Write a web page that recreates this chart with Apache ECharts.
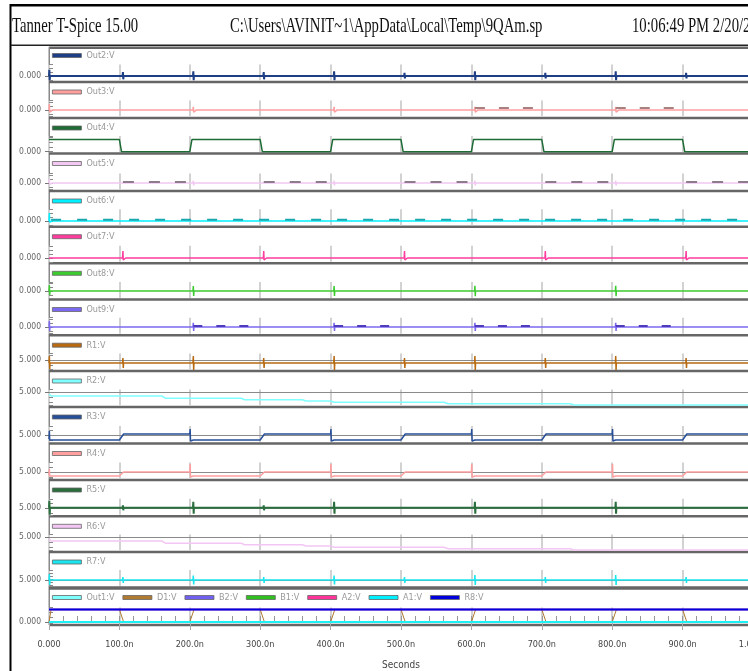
<!DOCTYPE html>
<html>
<head>
<meta charset="utf-8">
<title>Tanner T-Spice 15.00</title>
<script src="https://cdn.jsdelivr.net/npm/echarts@6/dist/echarts.min.js"></script>
<style>
html,body{margin:0;padding:0;background:#fff}
#main{width:748px;height:671px}
</style>
</head>
<body>
<div id="main"></div>
<script>
var NARROW = "'Liberation Sans Narrow','Arial Narrow','DejaVu Sans Condensed',sans-serif";

// x axis (ns)
var tickLabels = ['0.000', '100.0n', '200.0n', '300.0n', '400.0n', '500.0n', '600.0n', '700.0n', '800.0n', '900.0n', '1.000u'];

// glitches on flat traces: [time ns, up V, down V]
var out2Glitch = [[0.5,1.6,1.0],[105,1.0,0.8],[205,1.2,1.0],[305,1.0,0.8],[405,1.2,1.0],[505,0.8,0.6],[605,1.2,1.0],[705,0.8,0.6],[805,1.2,1.0],[905,0.8,0.6]];
var out3Glitch = [[0.5,1.5,0.5],[105,0.3,0.1],[205,0.8,0.5],[305,0.3,0.1],[405,0.8,0.5],[505,0.3,0.1],[605,0.8,0.5],[705,0.3,0.1],[805,0.8,0.5],[905,0.3,0.1]];
var out3Dash = [[605,700],[805,900]];
var out4 = [[0,5],[100,5],[103,0],[200,0],[203,5],[300,5],[303,0],[400,0],[403,5],[500,5],[503,0],[600,0],[603,5],[700,5],[703,0],[800,0],[803,5],[900,5],[903,0],[1000,0]];
var out5Glitch = [[0.5,1.0,0.3],[105,0.4,0.2],[205,0.6,0.6],[305,0.4,0.2],[405,0.6,0.6],[505,0.4,0.2],[605,0.6,0.6],[705,0.4,0.2],[805,0.6,0.6],[905,0.4,0.2]];
var out5Dash = [[105,200],[305,400],[505,600],[705,800],[905,1000]];
var out6Glitch = [[0.5,2.0,0.3],[105,0.5,0.3],[205,0.5,0.3],[305,0.5,0.3],[405,0.5,0.3],[505,0.5,0.3],[605,0.5,0.3],[705,0.5,0.3],[805,0.5,0.3],[905,0.5,0.3]];
var out6Dash = [[3,1000]];
var out7Glitch = [[0.5,0.5,0.2],[105,1.75,0.5],[205,0.3,0.3],[305,1.75,0.5],[405,0.3,0.3],[505,1.75,0.5],[605,0.3,0.3],[705,1.75,0.5],[805,0.3,0.3],[905,1.75,0.5]];
var out8Glitch = [[0.5,1.5,1.0],[105,0.25,0],[205,1.25,1.25],[305,0.25,0],[405,1.25,1.25],[505,0.25,0],[605,1.3,1.3],[705,0.25,0],[805,1.3,1.3],[905,0.25,0]];
var out9Glitch = [[0.5,1.5,1.0],[105,0.3,0.1],[205,1.0,1.0],[305,0.3,0.1],[405,1.0,1.0],[505,0.3,0.1],[605,1.0,1.0],[705,0.3,0.1],[805,1.0,1.0],[905,0.3,0.1]];
var out9Dash = [[205,300],[405,500],[605,700],[805,900]];
var r1Glitch = [[0.5,0.7,0.6],[105,0.5,0.5],[205,0.7,0.7],[305,0.5,0.5],[405,0.7,0.7],[505,0.5,0.5],[605,0.7,0.7],[705,0.5,0.5],[805,0.7,0.7],[905,0.5,0.5]];
var r2 = [[0,4.8],[3,4.6],[160,4.6],[166,4.37],[273,4.37],[278,4.23],[360,4.23],[365,4.1],[400,4.1],[405,3.97],[561,3.97],[567,3.83],[740,3.83],[746,3.7],[1000,3.7]];
var r3 = [[0,4.6],[0.5,5.4],[1,4.5],[100,4.5],[106,5.1],[200,5.1],[200.5,5.6],[201,4.4],[205,4.5],[300,4.5],[306,5.1],[400,5.1],[400.5,5.6],[401,4.4],[405,4.5],[500,4.5],[506,5.1],[600,5.1],[600.5,5.6],[601,4.4],[605,4.5],[700,4.5],[706,5.1],[800,5.1],[800.5,5.6],[801,4.4],[805,4.5],[900,4.5],[906,5.1],[1000,5.1]];
var r4 = [[0,4.7],[0.5,5.3],[1,4.6],[100,4.6],[106,5.0],[200,5.0],[200.5,5.8],[201,4.5],[205,4.6],[300,4.6],[306,5.0],[400,5.0],[400.5,5.8],[401,4.5],[405,4.6],[500,4.6],[506,5.0],[600,5.0],[600.5,5.8],[601,4.5],[605,4.6],[700,4.6],[706,5.0],[800,5.0],[800.5,5.8],[801,4.5],[805,4.6],[900,4.6],[906,5.0],[1000,5.0]];
var r5Glitch = [[0.5,0.7,0.7],[105,0.25,0.25],[205,0.6,0.6],[305,0.25,0.25],[405,0.6,0.6],[505,0.2,0.2],[605,0.6,0.6],[705,0.2,0.2],[805,0.6,0.6],[905,0.2,0.2]];
var r6 = [[0,4.8],[3,4.6],[160,4.6],[166,4.37],[273,4.37],[278,4.23],[360,4.23],[365,4.1],[400,4.1],[405,3.97],[561,3.97],[567,3.83],[740,3.83],[746,3.7],[1000,3.7]];
var r7Glitch = [[0.5,0.6,0.5],[105,0.3,0.3],[205,0.45,0.45],[305,0.3,0.3],[405,0.45,0.45],[505,0.3,0.3],[605,0.5,0.5],[705,0.3,0.3],[805,0.5,0.5],[905,0.3,0.3]];
var d1 = [[0,0],[3,5],[100,5],[106,0],[200,0],[206,5],[300,5],[306,0],[400,0],[406,5],[500,5],[506,0],[600,0],[606,5],[700,5],[706,0],[800,0],[806,5],[900,5],[906,0],[1000,0]];
var b2 = [[0,5],[1000,5]];
var b1 = [[0,0],[1000,0]];
var a2 = [[0,5],[1000,5]];
var a1 = [[0,0],[1000,0]];
var out1 = [[0,0],[1000,0]];
var r8 = [[0,5],[1000,5]];

// panels: legend names, y range, labelled level
var panelNames = [['Out2:V'],['Out3:V'],['Out4:V'],['Out5:V'],['Out6:V'],['Out7:V'],['Out8:V'],['Out9:V'],
  ['R1:V'],['R2:V'],['R3:V'],['R4:V'],['R5:V'],['R6:V'],['R7:V'],
  ['Out1:V','D1:V','B2:V','B1:V','A2:V','A1:V','R8:V']];
var yMin = [-1.1,-1.6,-0.15,-1.6,-1.05,-0.95,-1.75,-1.7, 4.05,3.65,4.3,4.35,4.3,3.65,4.4, -0.6];
var yMax = [2.9,2.4,6.5,2.4,2.95,3.05,2.25,2.3, 5.65,5.25,5.9,5.95,5.9,5.25,6.0, 5.8];
var yLabel = [0,0,0,0,0,0,0,0, 5,5,5,5,5,5,5, 0];

// layout: separator lines between panels
var sepY = [82, 118, 153.5, 191, 226.7, 263.3, 299.5, 335.2, 371, 407, 443.5, 480, 516.3, 552, 587.5, 625];
var panelTop = [47].concat(sepY.slice(0, 15).map(function (y) { return y + 1.5; }));
var PLOT_H = 16;

// flat trace with short spikes; extra return points so that zrender's
// tiny-segment skipping never leaves the trace hanging below its level
function flat(level, glitch) {
  var pts = [[0, level]];
  glitch.forEach(function (g) {
    pts.push([g[0] - 0.5, level], [g[0], level + g[1]], [g[0] + 0.5, level - g[2]],
      [g[0] + 0.9, level], [g[0] + 4, level]);
  });
  pts.push([1000, level]);
  return pts;
}

function line(name, idx, data, color, width) {
  return {
    name: name, type: 'line', xAxisIndex: idx, yAxisIndex: idx,
    data: data, symbol: 'none', showSymbol: false,
    lineStyle: { color: color, width: width || 1.5 },
    itemStyle: { color: color }
  };
}

function dashes(name, idx, spans, level, color, pattern) {
  var pts = [];
  spans.forEach(function (s) {
    pts.push([s[0], level], [s[1], level], [s[1] + 0.5, '-']);
  });
  var s = line(name, idx, pts, color, 2);
  s.lineStyle.type = pattern;
  return s;
}

function withRef(s, v) {
  s.markLine = {
    silent: true, symbol: ['none', 'none'], z: 1,
    label: { show: false },
    lineStyle: { color: '#8a8a8a', width: 1, type: 'solid' },
    data: [{ yAxis: v }]
  };
  return s;
}

var series = [
  line('Out2:V', 0, flat(0, out2Glitch), '#1e3f85', 2),
  line('Out3:V', 1, flat(0, out3Glitch), '#ff9f9f'),
  dashes('Out3:V', 1, out3Dash, 0.5, '#a88080', [10, 14]),
  line('Out4:V', 2, out4, '#1d6b35', 1.5),
  line('Out5:V', 3, flat(0, out5Glitch), '#f2c8f2'),
  dashes('Out5:V', 3, out5Dash, 0.25, '#8c7c8c', [11, 15]),
  line('Out6:V', 4, flat(0, out6Glitch), '#00f0ff'),
  dashes('Out6:V', 4, out6Dash, 0.3, '#18a8b0', [10, 16]),
  line('Out7:V', 5, flat(0, out7Glitch), '#ff3d9e'),
  line('Out8:V', 6, flat(0, out8Glitch), '#3ccc30'),
  line('Out9:V', 7, flat(0, out9Glitch), '#7b68f0'),
  dashes('Out9:V', 7, out9Dash, 0.25, '#4d3dbd', [9, 14]),
  withRef(line('R1:V', 8, flat(4.7, r1Glitch), '#b86a10'), 5),
  withRef(line('R2:V', 9, r2, '#80ffff'), 5),
  withRef(line('R3:V', 10, r3, '#274f99'), 5),
  withRef(line('R4:V', 11, r4, '#ff9f9f'), 5),
  withRef(line('R5:V', 12, flat(5, r5Glitch), '#2a6e3e', 2), 5),
  withRef(line('R6:V', 13, r6, '#f3c6f3'), 5),
  withRef(line('R7:V', 14, flat(5, r7Glitch), '#19e6ee'), 5),
  line('D1:V', 15, d1, '#b07a30', 1),
  line('B2:V', 15, b2, '#7060f0'),
  line('B1:V', 15, b1, '#30c020'),
  line('A2:V', 15, a2, '#ff3399'),
  line('Out1:V', 15, out1, '#80ffff'),
  line('A1:V', 15, a1, '#00f0ff'),
  line('R8:V', 15, r8, '#0000dd', 2)
];

var grids = [], xAxes = [], yAxes = [], innerY = [], legends = [];
for (var i = 0; i < 16; i++) {
  var last = i === 15;
  grids.push({ left: 49, width: 704, top: sepY[i] - 1.5 - PLOT_H, height: PLOT_H, containLabel: false, outerBoundsMode: 'none' });
  xAxes.push({
    gridIndex: i, type: 'value', min: 0, max: 1000, interval: 100,
    axisLine: { show: false },
    axisTick: { show: last, length: 8, lineStyle: { color: '#aaa', width: 1 } },
    axisLabel: {
      show: last, margin: 17, fontSize: 9, color: '#444', fontFamily: NARROW,
      formatter: function (v) { return tickLabels[Math.round(v / 100)]; }
    },
    splitLine: { show: true, lineStyle: { color: '#d2d2d2', width: 2 } },
    name: last ? 'Seconds' : '', nameLocation: 'middle', nameGap: 37,
    nameTextStyle: { fontSize: 10, color: '#444', fontFamily: NARROW }
  });
  yAxes.push({
    gridIndex: i, type: 'value', min: yMin[i], max: yMax[i],
    axisLine: { show: false },
    splitLine: { show: false },
    axisTick: { show: true, customValues: [yLabel[i]], length: 4, lineStyle: { color: '#777' } },
    axisLabel: {
      customValues: [yLabel[i]], margin: 8, fontSize: 8.5, color: '#666', fontFamily: NARROW,
      formatter: function (v) { return v.toFixed(3); }
    }
  });
  // short inner ticks along the left edge
  innerY.push({
    gridIndex: i, type: 'value', min: yMin[i], max: yMax[i], splitNumber: 4, position: 'left',
    axisLine: { show: false }, splitLine: { show: false }, axisLabel: { show: false },
    axisTick: { show: true, inside: true, length: 4, lineStyle: { color: '#888' } }
  });
  legends.push({
    data: panelNames[i], left: 52, top: panelTop[i] + 4,
    icon: 'rect', itemWidth: 29, itemHeight: 4, itemGap: 8,
    selectedMode: false, padding: 0,
    itemStyle: { borderColor: '#666', borderWidth: 0.8 },
    textStyle: { color: '#999', fontSize: 9, fontFamily: NARROW }
  });
}
// minor ticks of the bottom panel
xAxes.push({
  gridIndex: 15, type: 'value', min: 0, max: 1000, interval: 20, position: 'bottom',
  axisLine: { show: false }, axisLabel: { show: false }, splitLine: { show: false },
  axisTick: { show: true, inside: true, length: 6, lineStyle: { color: '#999' } }
});

// frame, separators, header
var frame = [
  { type: 'rect', shape: { x: 10, y: 4, width: 738, height: 2.5 }, style: { fill: '#000' } },
  { type: 'rect', shape: { x: 9.5, y: 4, width: 2, height: 667 }, style: { fill: '#000' } },
  { type: 'rect', shape: { x: 11, y: 44.5, width: 737, height: 1.5 }, style: { fill: '#222' } },
  { type: 'rect', shape: { x: 49, y: 46.5, width: 699, height: 2.5 }, style: { fill: '#666' } },
  { type: 'rect', shape: { x: 48.5, y: 47, width: 1.5, height: 578 }, style: { fill: '#888' } },
  { type: 'text', x: 12, y: 26.5, scaleX: 0.7,
    style: { text: 'Tanner T-Spice 15.00', font: '21px "Liberation Serif"', fill: '#111', verticalAlign: 'middle' } },
  { type: 'text', x: 230, y: 26.5, scaleX: 0.7,
    style: { text: 'C:\\Users\\AVINIT~1\\AppData\\Local\\Temp\\9QAm.sp', font: '21px "Liberation Serif"', fill: '#111', verticalAlign: 'middle' } },
  { type: 'text', x: 632, y: 26.5, scaleX: 0.7,
    style: { text: '10:06:49 PM 2/20/2', font: '21px "Liberation Serif"', fill: '#111', verticalAlign: 'middle' } }
];
sepY.forEach(function (y, k) {
  frame.push({ type: 'rect', shape: { x: 49, y: y - 1.25, width: 699, height: k === 14 ? 3.5 : 2.5 }, style: { fill: '#666' } });
});

var chart = echarts.init(document.getElementById('main'));
chart.setOption({
  animation: false,
  backgroundColor: '#fff',
  grid: grids,
  xAxis: xAxes,
  yAxis: yAxes.concat(innerY),
  legend: legends,
  graphic: { z: 10, elements: frame },
  series: series
});
</script>
</body>
</html>
